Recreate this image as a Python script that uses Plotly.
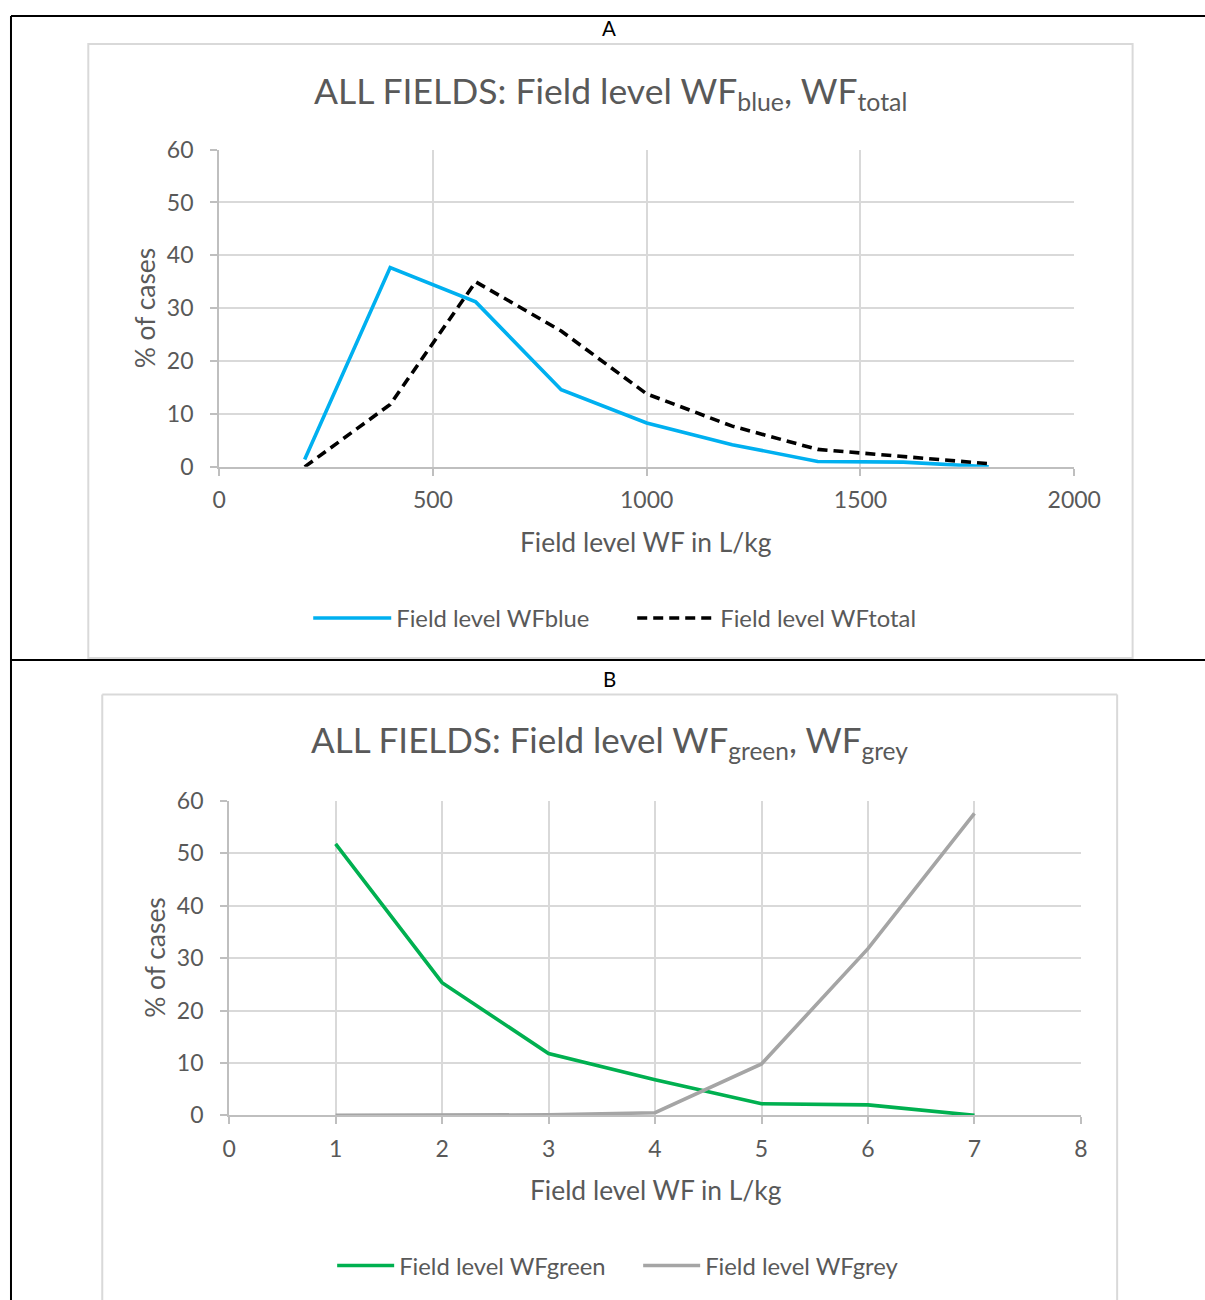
import plotly.graph_objects as go

# ---------------- data ----------------
wf_x_a = [200, 400, 600, 800, 1000, 1200, 1400, 1600, 1800]
wf_blue = [1.4, 37.7, 31.2, 14.6, 8.3, 4.2, 1.0, 0.9, 0.0]
wf_total = [0.0, 11.8, 35.0, 25.7, 13.8, 7.7, 3.3, 1.9, 0.6]

wf_x_b = [1, 2, 3, 4, 5, 6, 7]
wf_green = [51.8, 25.3, 11.8, 6.8, 2.2, 2.0, 0.0]
wf_grey = [0.0, 0.0, 0.1, 0.5, 9.8, 31.8, 57.6]

names_a = ["Field level WFblue", "Field level WFtotal"]
names_b = ["Field level WFgreen", "Field level WFgrey"]

# figure size and mapping from target-picture pixels to figure pixels
W, H = 1236, 1318
SX, SY = 0.975, 0.978
BX, BY = 4.0, 15.5
FONT = "Lato"
TXT = "#595959"
GRID = "#d9d9d9"
AXL = "#bfbfbf"


def px(x):
    return ((x - BX) / SX) / W


def py(y):
    return 1 - ((y - BY) / SY) / H


fig = go.Figure()
fig.add_trace(go.Scatter(x=wf_x_a, y=wf_blue, mode="lines", name=names_a[0],
                         line=dict(color="#00B0F0", width=3.6),
                         xaxis="x", yaxis="y", legend="legend"))
fig.add_trace(go.Scatter(x=wf_x_a, y=wf_total, mode="lines", name=names_a[1],
                         line=dict(color="#000000", width=3.6, dash="10px,6px"),
                         xaxis="x", yaxis="y", legend="legend"))
fig.add_trace(go.Scatter(x=wf_x_b, y=wf_green, mode="lines", name=names_b[0],
                         line=dict(color="#00B050", width=3.6),
                         xaxis="x2", yaxis="y2", legend="legend2"))
fig.add_trace(go.Scatter(x=wf_x_b, y=wf_grey, mode="lines", name=names_b[1],
                         line=dict(color="#A5A5A5", width=3.6),
                         xaxis="x2", yaxis="y2", legend="legend2"))

tickfont = dict(family=FONT, size=23, color=TXT)
titlefont = dict(family=FONT, size=26.4, color=TXT)
legfont = dict(family=FONT, size=23.8, color=TXT)

common_x = dict(showgrid=True, gridcolor=GRID, gridwidth=2, showline=True,
                linecolor=AXL, linewidth=2, zeroline=False, ticks="outside",
                ticklen=7, tickcolor=AXL, tickwidth=2, tickfont=tickfont,
                ticklabelstandoff=5, fixedrange=True)
common_y = dict(showgrid=True, gridcolor=GRID, gridwidth=2, showline=True,
                linecolor=AXL, linewidth=2, zeroline=False, ticks="outside",
                ticklen=7, tickcolor=AXL, tickwidth=2, tickfont=tickfont,
                ticklabelstandoff=12,
                fixedrange=True, range=[0, 60], dtick=10, tick0=0)

layout = dict(
    width=W, height=H, margin=dict(l=0, r=0, t=0, b=0, pad=0),
    paper_bgcolor="white", plot_bgcolor="white",
    xaxis=dict(common_x, domain=[px(216.7), px(1074)], range=[0, 2000],
               dtick=500, tick0=0, anchor="y"),
    yaxis=dict(common_y, domain=[py(467), py(150)], anchor="x"),
    xaxis2=dict(common_x, domain=[px(226.7), px(1080.7)], range=[0, 8],
                dtick=1, tick0=0, anchor="y2"),
    yaxis2=dict(common_y, domain=[py(1115), py(800.7)], anchor="x2"),
    legend=dict(orientation="h", x=px(306), xanchor="left", y=py(618),
                yanchor="middle", font=legfont,
                itemwidth=78, entrywidth=231, entrywidthmode="pixels",
                bgcolor="rgba(0,0,0,0)"),
    legend2=dict(orientation="h", x=px(330), xanchor="left", y=py(1265),
                 yanchor="middle", font=legfont,
                 itemwidth=57, entrywidth=234, entrywidthmode="pixels",
                 bgcolor="rgba(0,0,0,0)"),
    showlegend=True,
)
fig.update_layout(**layout)

shapes = []
# outer table lines
for (x0, y0, x1, y1) in [(8, 16.5, 1215, 16.5), (8, 16.5, 8, 1310),
                         (8, 660, 1215, 660)]:
    shapes.append(dict(type="line", xref="paper", yref="paper",
                       x0=px(x0), y0=py(y0), x1=px(x1), y1=py(y1),
                       line=dict(color="black", width=2)))
# chart frames
shapes.append(dict(type="rect", xref="paper", yref="paper",
                   x0=px(85.5), y0=py(658), x1=px(1132.5), y1=py(44.5),
                   line=dict(color=GRID, width=2)))
for (x0, y0, x1, y1) in [(99.5, 694.5, 1117, 694.5), (99.5, 694.5, 99.5, 1310),
                         (1117, 694.5, 1117, 1310)]:
    shapes.append(dict(type="line", xref="paper", yref="paper",
                       x0=px(x0), y0=py(y0), x1=px(x1), y1=py(y1),
                       line=dict(color=GRID, width=2)))
fig.update_layout(shapes=shapes)


def note(text, x, y, font, angle=0):
    return dict(text=text, x=px(x), y=py(y), xref="paper", yref="paper",
                xanchor="center", yanchor="middle", showarrow=False,
                textangle=angle, font=font)


ann = [
    note("A", 608, 28, dict(family=FONT, size=20.5, color="black")),
    note("B", 608, 679, dict(family=FONT, size=20.5, color="black")),
    note("ALL FIELDS: Field level WF<sub>blue</sub>, WF<sub>total</sub>", 609, 93,
         dict(family=FONT, size=35.5, color=TXT)),
    note("ALL FIELDS: Field level WF<sub>green</sub>, WF<sub>grey</sub>", 608, 741,
         dict(family=FONT, size=35, color=TXT)),
    note("Field level WF in L/kg", 645, 542, titlefont),
    note("Field level WF in L/kg", 655, 1190, titlefont),
    note("% of cases", 142, 308, titlefont, -90),
    note("% of cases", 153, 957, titlefont, -90),
]
fig.update_layout(annotations=ann)

fig.write_html("out.html")
